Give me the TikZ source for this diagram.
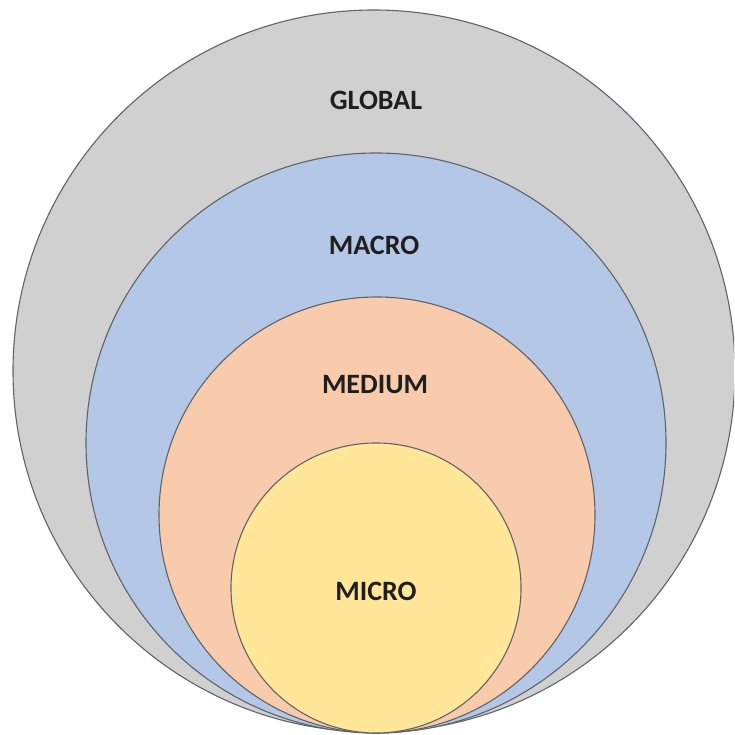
\documentclass[tikz,border=0pt]{standalone}
\usepackage{fontspec}
\setmainfont{Carlito}
\begin{document}
\begin{tikzpicture}[x=1pt,y=1pt,
  ring/.style={draw=ringline,line width=1.1pt},
  label/.style={font=\bfseries\fontsize{28}{32}\selectfont,text=black!88}]
\definecolor{ringline}{HTML}{5F6468}
\definecolor{globalfill}{HTML}{D0D0D0}
\definecolor{macrofill}{HTML}{B4C7E7}
\definecolor{mediumfill}{HTML}{F8CBAD}
\definecolor{microfill}{HTML}{FFE699}
\useasboundingbox (0,0) rectangle (734,735);
\fill[white] (0,0) rectangle (734,735);
% nested circles, all touching at the bottom
\begin{scope}
\clip (0,0) rectangle (734,735);
\draw[ring,fill=globalfill] (374,364) circle (361);
\end{scope}
\draw[ring,fill=macrofill]  (376,292) circle (290);
\draw[ring,fill=mediumfill] (377,220) circle (218);
\draw[ring,fill=microfill]  (376,147) circle (145);
% labels
\node[label] (global) at (376,635) {GLOBAL};
\node[label] (macro)  at (374,490) {MACRO};
\node[label] (medium) at (375,350) {MEDIUM};
\node[label] (micro)  at (376,144) {MICRO};
\end{tikzpicture}
\end{document}
